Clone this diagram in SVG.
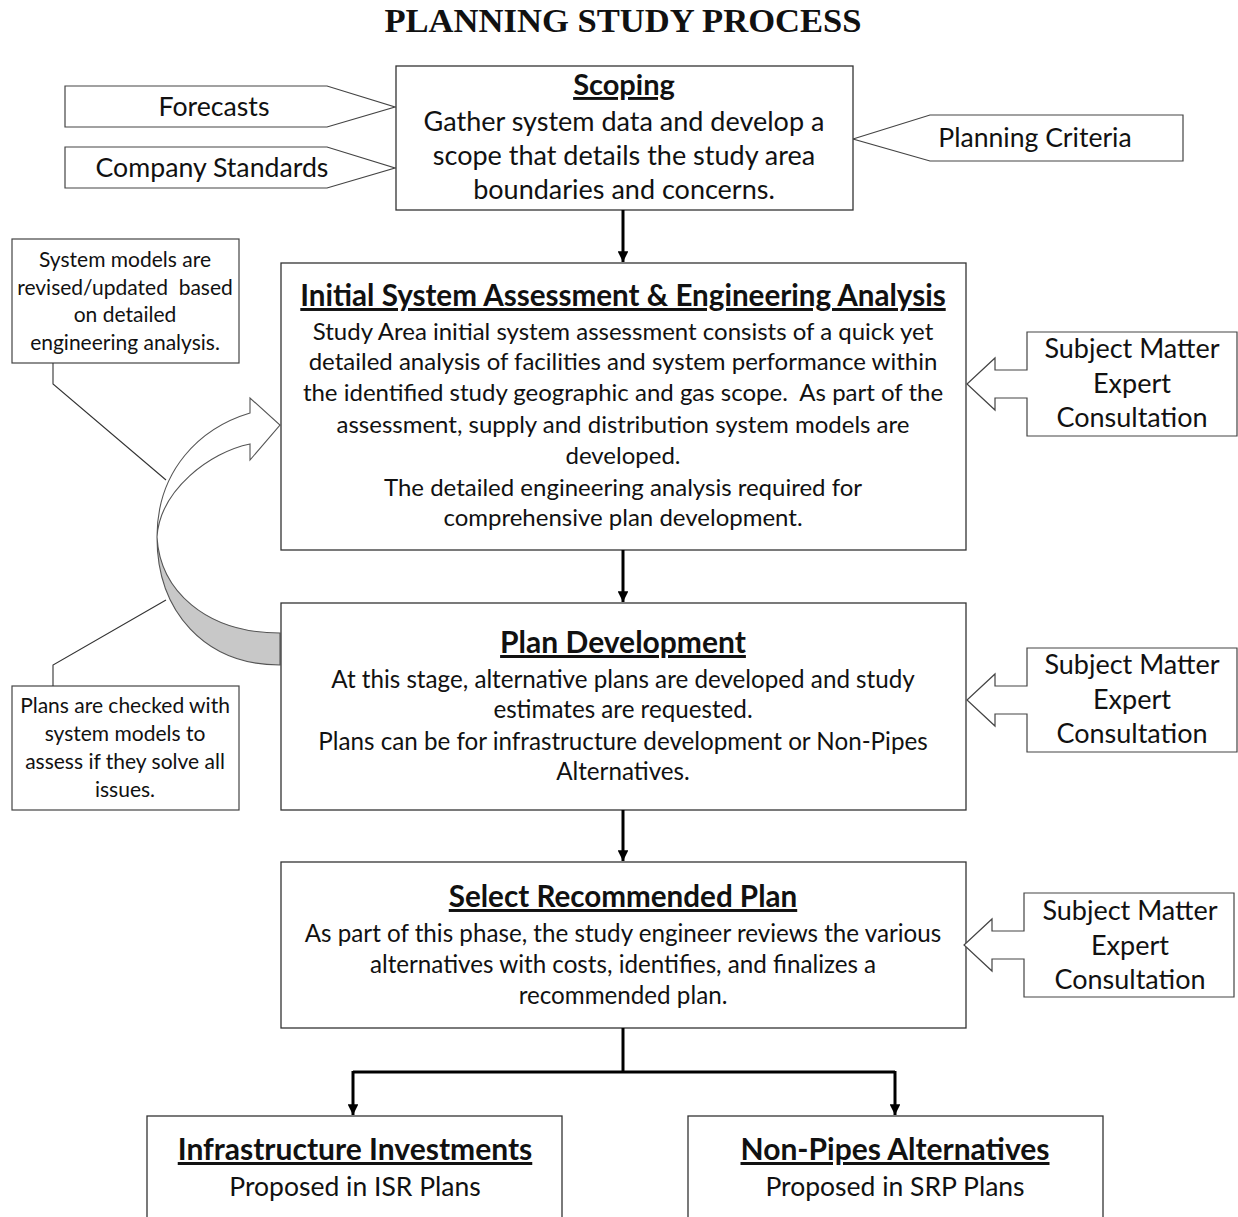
<svg xmlns="http://www.w3.org/2000/svg" width="1238" height="1217" viewBox="0 0 1238 1217">
<style>
.bg{fill:#fff}
.box{fill:#fff;stroke:#333;stroke-width:1.3}
.side{fill:#fff;stroke:#444;stroke-width:1.2}
.t{font-family:Lato,'Liberation Sans',sans-serif;fill:#111;text-anchor:middle}
.h{font-weight:bold;text-decoration:underline}
.conn{stroke:#000;stroke-width:3;fill:none}
.lead{stroke:#333;stroke-width:1.1;fill:none}
</style>
<defs>
<marker id="ah" viewBox="0 0 10 10" refX="10" refY="5" markerWidth="3.6" markerHeight="3.6" orient="auto">
<path d="M0,0 L10,5 L0,10 Z" fill="#000"/>
</marker>
<path id="sme" d="M1027,332 H1237 V436 H1027 V398 H995 V410 L967,384 L995,358 V370 H1027 Z"/>
</defs>
<rect class="bg" width="1238" height="1217"/>
<text x="623" y="32" font-family="'Liberation Serif',serif" font-weight="bold" font-size="34.6" text-anchor="middle" fill="#111">PLANNING STUDY PROCESS</text>

<g id="forecasts">
<polygon class="side" points="65,86 327,86 395,107 327,127 65,127"/>
<text class="t" x="214" y="116" font-size="26.7">Forecasts</text>
</g>
<g id="company-standards">
<polygon class="side" points="65,147 327,147 395,168 327,188 65,188"/>
<text class="t" x="212" y="177" font-size="26.7">Company Standards</text>
</g>
<g id="planning-criteria">
<polygon class="side" points="853,139 930,115 1183,115 1183,161 930,161"/>
<text class="t" x="1035" y="147" font-size="26.6">Planning Criteria</text>
</g>

<g id="feedback-loop">
<path d="M157,537 C157,612 205,665 280,665 L280,633 C205,633 160,590 157,537 Z" fill="#c8c8c8" stroke="#555" stroke-width="1.1"/>
<path d="M157,537 C157,470 200,428 250,413 L250,398 L280,425 L250,460 L250,444 C210,452 160,490 157,537 Z" fill="#fff" stroke="#555" stroke-width="1.1"/>
</g>

<g id="scoping">
<rect class="box" x="396" y="66" width="457" height="144"/>
<text class="t h" x="624" y="95" font-size="29">Scoping</text>
<text class="t" x="624" y="131" font-size="27">Gather system data and develop a</text>
<text class="t" x="624" y="165" font-size="27">scope that details the study area</text>
<text class="t" x="624" y="199" font-size="27">boundaries and concerns.</text>
</g>

<g id="initial-assessment">
<rect class="box" x="281" y="263" width="685" height="287"/>
<text class="t h" x="623" y="306" font-size="29.6">Initial System Assessment &amp; Engineering Analysis</text>
<text class="t" x="623" y="340" font-size="24">Study Area initial system assessment consists of a quick yet</text>
<text class="t" x="623" y="370" font-size="24">detailed analysis of facilities and system performance within</text>
<text class="t" x="623" y="401" font-size="24" xml:space="preserve">the identified study geographic and gas scope.  As part of the</text>
<text class="t" x="623" y="433" font-size="24">assessment, supply and distribution system models are</text>
<text class="t" x="623" y="464" font-size="24">developed.</text>
<text class="t" x="623" y="496" font-size="24">The detailed engineering analysis required for</text>
<text class="t" x="623" y="526" font-size="24">comprehensive plan development.</text>
</g>

<g id="plan-development">
<rect class="box" x="281" y="603" width="685" height="207"/>
<text class="t h" x="623" y="653" font-size="30">Plan Development</text>
<text class="t" x="623" y="688" font-size="24.2">At this stage, alternative plans are developed and study</text>
<text class="t" x="623" y="718" font-size="24.2">estimates are requested.</text>
<text class="t" x="623" y="750" font-size="24.2">Plans can be for infrastructure development or Non-Pipes</text>
<text class="t" x="623" y="780" font-size="24.2">Alternatives.</text>
</g>

<g id="select-plan">
<rect class="box" x="281" y="862" width="685" height="166"/>
<text class="t h" x="623" y="907" font-size="29.6">Select Recommended Plan</text>
<text class="t" x="623" y="942" font-size="24.2">As part of this phase, the study engineer reviews the various</text>
<text class="t" x="623" y="973" font-size="24.2">alternatives with costs, identifies, and finalizes a</text>
<text class="t" x="623" y="1004" font-size="24.2">recommended plan.</text>
</g>

<g id="sme-1">
<use href="#sme" class="side"/>
<text class="t" x="1132" y="358" font-size="27">Subject Matter</text>
<text class="t" x="1132" y="393" font-size="27">Expert</text>
<text class="t" x="1132" y="427" font-size="27">Consultation</text>
</g>
<g id="sme-2">
<use href="#sme" class="side" transform="translate(0,316)"/>
<text class="t" x="1132" y="674" font-size="27">Subject Matter</text>
<text class="t" x="1132" y="709" font-size="27">Expert</text>
<text class="t" x="1132" y="743" font-size="27">Consultation</text>
</g>
<g id="sme-3">
<use href="#sme" class="side" transform="translate(-3,561)"/>
<text class="t" x="1130" y="920" font-size="27">Subject Matter</text>
<text class="t" x="1130" y="955" font-size="27">Expert</text>
<text class="t" x="1130" y="989" font-size="27">Consultation</text>
</g>

<g id="note-models">
<rect class="side" x="12" y="239" width="227" height="124"/>
<text class="t" x="125" y="267" font-size="21">System models are</text>
<text class="t" x="125" y="295" font-size="21" xml:space="preserve">revised/updated  based</text>
<text class="t" x="125" y="322" font-size="21">on detailed</text>
<text class="t" x="125" y="350" font-size="21">engineering analysis.</text>
</g>
<g id="note-plans">
<rect class="side" x="12" y="686" width="227" height="124"/>
<text class="t" x="125" y="713" font-size="21">Plans are checked with</text>
<text class="t" x="125" y="741" font-size="21">system models to</text>
<text class="t" x="125" y="769" font-size="21">assess if they solve all</text>
<text class="t" x="125" y="797" font-size="21">issues.</text>
</g>

<g id="infrastructure">
<rect class="box" x="147" y="1116" width="415" height="110"/>
<text class="t h" x="355" y="1160" font-size="30">Infrastructure Investments</text>
<text class="t" x="355" y="1196" font-size="26.5">Proposed in ISR Plans</text>
</g>
<g id="non-pipes">
<rect class="box" x="688" y="1116" width="415" height="110"/>
<text class="t h" x="895" y="1160" font-size="30">Non-Pipes Alternatives</text>
<text class="t" x="895" y="1196" font-size="26.5">Proposed in SRP Plans</text>
</g>

<g id="connectors">
<line class="conn" x1="623" y1="210" x2="623" y2="262" marker-end="url(#ah)"/>
<line class="conn" x1="623" y1="550" x2="623" y2="602" marker-end="url(#ah)"/>
<line class="conn" x1="623" y1="810" x2="623" y2="861" marker-end="url(#ah)"/>
<polyline class="conn" points="623,1028 623,1072"/>
<polyline class="conn" points="353,1072 895,1072"/>
<line class="conn" x1="353" y1="1071" x2="353" y2="1115" marker-end="url(#ah)"/>
<line class="conn" x1="895" y1="1071" x2="895" y2="1115" marker-end="url(#ah)"/>
<polyline class="lead" points="53,363 53,384 166,480"/>
<polyline class="lead" points="53,686 53,665 166,600"/>
</g>
</svg>
